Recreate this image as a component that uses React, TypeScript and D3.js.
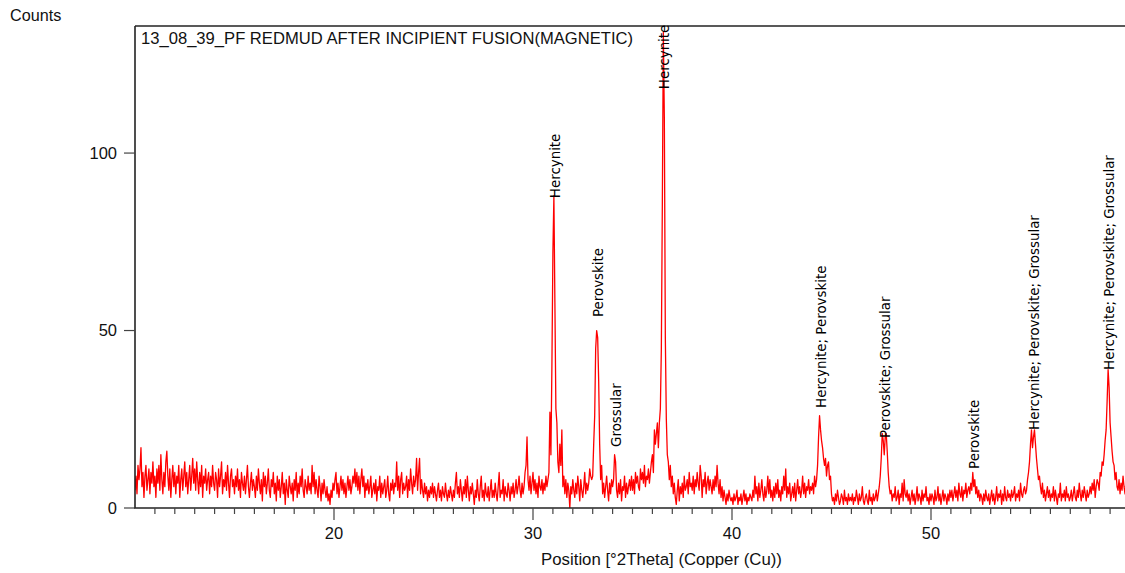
import React from "react";
import * as d3 from "d3";

// XRD counts, 0.05° steps, each segment spans 5°
const counts10to15 = [
  5,9,4,12,8,11,17,6,10,3,9,12,5,8,11,4,10,7,13,6,
  9,3,11,7,12,5,15,8,4,10,6,13,16,9,5,11,3,8,12,6,
  10,4,9,7,12,3,8,11,5,9,13,6,10,4,8,12,5,9,14,7,
  11,5,13,8,4,10,6,12,3,9,7,11,5,8,10,4,9,6,12,7,
  5,10,8,3,11,6,9,13,4,8,6,10,5,12,7,3,9,11,6,8,
];
const counts15to20 = [
  4,9,6,11,5,8,3,10,7,5,9,4,8,12,6,3,7,10,5,8,
  6,3,9,5,11,7,4,8,2,10,6,9,4,7,11,5,3,8,6,10,
  4,7,2,9,5,8,3,6,10,4,7,1,8,5,3,9,6,4,7,2,
  8,5,10,3,7,4,9,6,11,5,3,8,6,4,9,5,7,4,12,6,
  10,4,8,5,3,9,6,2,7,4,8,5,3,6,2,4,1,5,3,7,
];
const counts20to25 = [
  5,8,10,4,7,3,6,9,5,8,4,7,3,6,9,5,8,4,6,9,
  7,11,6,10,5,9,4,8,11,6,9,3,7,5,8,4,6,9,3,5,
  7,4,8,2,6,5,9,3,7,4,6,8,3,5,9,4,2,7,5,8,
  4,7,6,13,5,9,3,8,10,4,7,5,6,9,3,8,5,11,7,4,
  9,6,8,14,5,10,14,4,8,5,3,7,4,6,2,5,3,6,4,7,
];
const counts25to30 = [
  3,6,4,2,5,7,3,5,2,6,4,3,7,4,2,5,3,6,4,2,
  5,3,7,10,4,6,3,8,5,2,6,4,8,3,9,5,2,6,4,7,
  4,1,5,3,8,4,2,6,9,3,5,2,7,4,3,6,2,5,8,3,
  5,3,7,4,2,6,10,3,5,4,8,2,6,4,3,7,5,2,6,4,
  7,3,5,8,4,6,9,5,3,7,4,6,10,12,20,8,5,9,4,7,
];
const counts30to35 = [
  10,5,8,4,7,3,9,6,5,8,4,7,5,9,6,8,10,27,15,40,
  72,88,58,28,24,13,10,18,12,22,6,9,4,8,3,7,5,0,6,4,
  8,5,3,7,4,9,6,2,8,5,3,6,10,4,7,5,7,11,9,8,
  9,18,26,45,50,48,36,18,8,12,4,7,3,6,9,5,2,7,4,8,
  6,8,15,13,5,3,7,4,8,2,6,5,9,3,7,4,6,8,5,9,
];
const counts35to40 = [
  5,8,4,10,7,9,6,5,11,8,10,7,12,6,9,8,11,7,10,13,
  15,10,22,18,21,24,17,24,28,45,86,134,110,48,25,15,13,8,12,6,
  9,4,7,3,1,5,8,2,6,4,7,3,9,5,6,8,4,10,6,7,
  5,9,4,8,6,10,7,5,12,9,3,8,6,10,4,7,9,5,8,6,
  4,8,5,9,6,12,7,4,8,3,6,2,5,3,1,4,2,5,3,2,
];
const counts40to45 = [
  3,1,4,2,3,5,1,3,2,4,1,3,5,2,4,1,3,2,4,3,
  2,5,3,9,4,6,2,7,3,5,8,4,2,6,3,5,9,4,8,3,
  5,2,6,3,7,4,8,3,5,2,6,4,9,5,11,3,6,4,7,2,
  4,6,3,7,2,5,8,4,6,3,5,9,4,7,3,6,5,8,4,6,
  5,7,4,9,6,8,12,20,26,22,19,17,14,12,14,9,12,13,8,9,
];
const counts45to50 = [
  4,2,3,1,4,2,5,3,1,2,4,3,1,5,2,3,1,4,2,3,
  2,4,1,3,2,5,3,1,4,2,3,6,2,1,3,4,2,1,5,2,
  3,1,4,2,3,5,2,4,6,9,14,21,19,15,20,21,16,10,6,4,
  5,2,4,3,6,2,3,5,1,4,3,7,2,8,4,3,5,2,4,1,
  3,5,2,4,1,3,6,2,4,3,1,5,2,4,3,6,2,3,1,4,
];
const counts50to55 = [
  2,4,3,1,5,2,3,6,2,4,1,3,5,2,4,3,1,4,2,5,
  3,5,2,4,6,3,5,2,7,4,3,6,2,5,4,7,3,5,6,4,
  7,5,10,6,8,4,6,3,5,2,4,3,1,4,2,5,3,2,4,1,
  3,5,2,4,1,3,6,2,4,3,5,1,4,2,6,3,2,5,3,4,
  2,5,3,4,6,2,4,3,5,2,7,4,3,5,6,4,5,8,10,13,
];
const counts55to60 = [
  18,22,17,20,22,18,14,11,8,9,6,4,7,3,5,2,4,6,3,5,
  2,4,3,6,2,5,3,1,4,3,7,2,4,3,5,2,6,3,4,2,
  3,5,2,4,6,3,2,5,3,7,4,2,5,3,6,4,2,5,3,4,
  6,4,7,5,8,3,6,8,7,5,10,9,13,12,15,19,22,30,39,34,
  24,20,16,13,12,8,10,6,5,8,4,7,5,9,6,4,8,5,7,6,
];
const segmentStarts = [10, 15, 20, 25, 30, 35, 40, 45, 50, 55];
const segments = [counts10to15, counts15to20, counts20to25, counts25to30, counts30to35,
  counts35to40, counts40to45, counts45to50, counts50to55, counts55to60];
const stepDeg = 0.05;

const yTickValues = [0, 50, 100];
const xMajorTicks = [20, 30, 40, 50];
const xMinorTicks = d3.range(11, 60);

const peakLabelDeg = [31.05, 33.2, 34.1, 36.55, 44.42, 47.65, 52.13, 55.15, 58.9];
const peakLabelCount = [87.3, 53.8, 17.2, 118, 28.2, 19.7, 11, 22, 38.9];
const peakLabelText = [
  "Hercynite", "Perovskite", "Grossular", "Hercynite", "Hercynite; Perovskite",
  "Perovskite; Grossular", "Perovskite", "Hercynite; Perovskite; Grossular",
  "Hercynite; Perovskite; Grossular",
];

const titleText = "13_08_39_PF REDMUD AFTER INCIPIENT FUSION(MAGNETIC)";
const xAxisTitle = "Position [°2Theta] (Copper (Cu))";
const yAxisTitle = "Counts";

export default function App() {
  const W = 1125, H = 573;
  const left = 135, right = 1130, top = 26, bottom = 508;
  const x = d3.scaleLinear().domain([10, 60]).range([left, right]);
  const y = d3.scaleLinear().domain([0, 135.8]).range([bottom, top]);

  const pts: [number, number][] = [];
  segments.forEach((seg, si) => {
    seg.forEach((v, i) => {
      pts.push([segmentStarts[si] + i * stepDeg, v]);
    });
  });
  const line = d3.line<[number, number]>().x(d => x(d[0])).y(d => y(d[1]));
  const font = "'Liberation Sans', Arial, sans-serif";
  const axisColor = "#222";

  return (
    <svg width={W} height={H} style={{ position: "absolute", left: 0, top: 0, background: "#fff" }}>
      <defs>
        <clipPath id="plotclip">
          <rect x={left} y={top} width={right - left} height={bottom - top} />
        </clipPath>
      </defs>
      <path d={line(pts) || ""} fill="none" stroke="#ff0000" strokeWidth={1.3} strokeLinejoin="round" clipPath="url(#plotclip)" />
      {/* frame */}
      <line x1={left} x2={W + 20} y1={top} y2={top} stroke={axisColor} strokeWidth={1.6} />
      <line x1={left} x2={left} y1={top} y2={bottom} stroke={axisColor} strokeWidth={1.6} />
      <line x1={left - 1} x2={W + 20} y1={bottom} y2={bottom} stroke={axisColor} strokeWidth={1.6} />
      {/* y ticks */}
      {yTickValues.map(v => (
        <g key={"y" + v}>
          <line x1={left - 11} x2={left} y1={y(v)} y2={y(v)} stroke="#444" strokeWidth={1.2} />
          <text x={117} y={y(v)} dy="0.36em" textAnchor="end" fontFamily={font} fontSize={16.5} fill="#111">{v}</text>
        </g>
      ))}
      {/* x ticks */}
      {xMinorTicks.map(v => (
        <line key={"xm" + v} x1={x(v)} x2={x(v)} y1={bottom} y2={bottom + (xMajorTicks.includes(v) ? 12 : 6)} stroke="#444" strokeWidth={1.2} />
      ))}
      {xMajorTicks.map(v => (
        <text key={"xl" + v} x={x(v)} y={538.5} textAnchor="middle" fontFamily={font} fontSize={16.5} fill="#111">{v}</text>
      ))}
      <text x={661.5} y={565} textAnchor="middle" fontFamily={font} fontSize={16.8} fill="#111">{xAxisTitle}</text>
      <text x={10} y={21} fontFamily={font} fontSize={16.2} fill="#111">{yAxisTitle}</text>
      <text x={141} y={43.5} fontFamily={font} fontSize={16.6} fill="#111">{titleText}</text>
      {/* peak labels */}
      {peakLabelDeg.map((d, i) => (
        <text key={"pl" + i} transform={`translate(${x(d) + 6},${y(peakLabelCount[i])}) rotate(-90)`}
          fontFamily="'DejaVu Sans', Verdana, sans-serif" fontSize={13.4} fill="#000">{peakLabelText[i]}</text>
      ))}
    </svg>
  );
}
